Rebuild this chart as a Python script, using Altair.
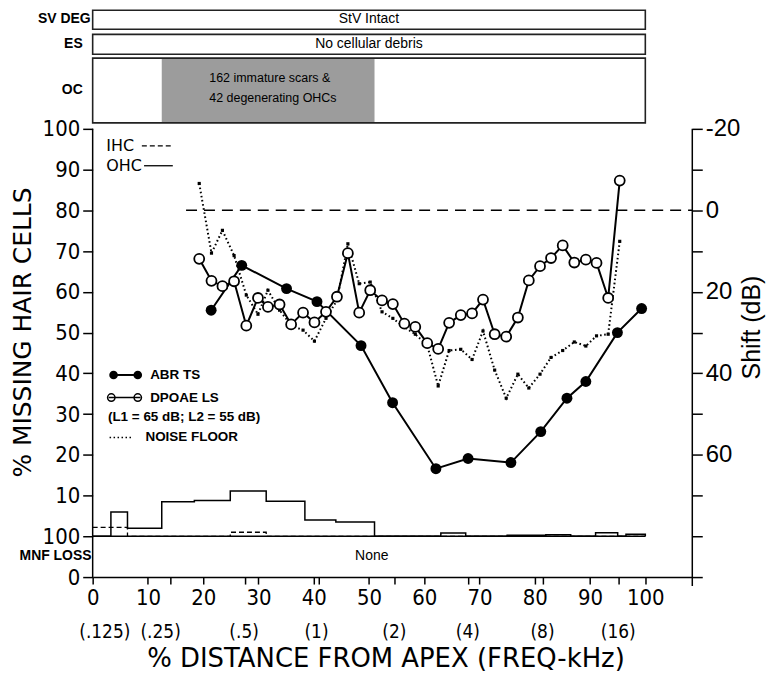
import altair as alt
import pandas as pd

# ---------------- data ----------------
# DPOAE level shift and noise floor, % distance from apex
dp_x = [19.28, 21.50, 23.48, 25.59, 27.80, 29.91, 31.71, 33.82, 35.91, 38.07,
        40.13, 42.22, 44.20, 46.18, 48.23, 50.22, 52.36, 54.32, 56.40, 58.38,
        60.54, 62.52, 64.50, 66.61, 68.65, 70.63, 72.74, 74.83, 76.94, 78.92,
        80.95, 82.94, 85.05, 87.15, 89.24, 91.17, 93.28, 95.37]
dp_shift = [11.9, 17.3, 18.6, 17.4, 28.3, 21.5, 23.7, 23.1, 28.0, 25.1,
            27.5, 24.9, 21.2, 10.5, 25.1, 19.6, 22.1, 23.0, 27.8, 28.6,
            32.6, 34.0, 27.6, 25.7, 25.3, 21.9, 30.4, 31.0, 26.3, 17.2,
            13.7, 11.7, 8.6, 12.8, 12.1, 12.9, 21.5, -7.3]
nf_shift = [-6.6, 10.5, 4.9, 11.1, 20.8, 25.5, 19.6, 24.5, 28.2, 29.4,
            32.1, 26.5, 22.1, 8.2, 18.0, 17.6, 24.9, 26.5, 28.7, 30.4,
            33.1, 43.1, 34.4, 34.1, 36.6, 29.6, 39.2, 46.1, 40.2, 43.6,
            40.2, 36.1, 34.4, 32.3, 33.3, 30.8, 30.4, 7.6]
# ABR threshold shift
abr_x = [21.44, 26.97, 35.08, 40.59, 48.56, 54.27, 62.11, 67.93, 75.68, 81.08,
         85.82, 89.24, 94.95, 99.33]
abr_shift = [24.5, 13.5, 19.2, 22.4, 33.2, 47.2, 63.4, 60.9, 61.9, 54.3,
             46.1, 42.0, 30.0, 24.1]
# cytocochleogram (% missing hair cells), step bins (left edges)
ohc_edges = [0, 3.3, 6.3, 12.5, 18.4, 24.9, 31.4, 38.4, 44.0, 51.0, 63.0, 67.5,
             75.0, 82.0, 86.5, 91.0, 95.0, 96.5, 100]
ohc_loss = [0, 6.0, 2.0, 8.5, 8.8, 11.1, 8.6, 4.0, 3.5, 0, 0.8, 0,
            0.25, 0.4, 0, 0.9, 0, 0.5, 0]
ihc_edges = [0, 6.3, 24.9, 31.4, 100]
ihc_loss = [2.2, 0, 1.0, 0, 0]
# pathology panels
region_labels = ["SV DEG", "ES", "OC"]
region_texts = ["StV Intact", "No cellular debris"]
oc_lesion = [12.5, 51.0]
oc_lesion_text = ["162 immature scars &", "42 degenerating OHCs"]
mnf_text = "None"
# frequency labels
freq_labels = ["(.125)", "(.25)", "(.5)", "(1)", "(2)", "(4)", "(8)", "(16)"]
freq_pos = [2.2, 12.3, 27.4, 40.5, 54.6, 67.9, 81.4, 95.1]
minor_ticks = [14, 27.5, 41, 54.6, 67.9, 81.4, 95.1]

# ---------------- scales ----------------
X_MAX = 108.5
xs = alt.Scale(domain=[0, X_MAX], nice=False, zero=False)
ys = alt.Scale(domain=[-10, 129.34], nice=False, zero=False)
ds = alt.Scale(domain=[-49.34, 90], nice=False, zero=False, reverse=True)

NUM_FONT = "DejaVu Sans Condensed, Liberation Sans"
TITLE_FONT = "DejaVu Sans"
LAB_FONT = "Liberation Sans"

x_axis = alt.Axis(
    values=list(range(0, 101, 10)) + minor_ticks,
    labelExpr="datum.value % 10 == 0 ? datum.label : ''",
    title="% DISTANCE FROM APEX (FREQ-kHz)", titleFont=TITLE_FONT, titleFontSize=26,
    titleFontWeight="normal", titleY=82, titleX=294, titleBaseline="middle",
    labelFont=NUM_FONT, labelFontSize=22, tickSize=7, labelPadding=4,
    domainWidth=1.5, tickWidth=1.5, grid=False, labelFlush=False)
y_axis = alt.Axis(
    values=list(range(-10, 101, 10)),
    labelExpr="datum.value == 0 ? '100' : (datum.value == -10 ? '0' : datum.label)",
    title="% MISSING HAIR CELLS", titleFont=TITLE_FONT, titleFontSize=25,
    titleFontWeight="normal", titleX=-70, titleY=324, titleAngle=270,
    titleAlign="center", titleBaseline="middle",
    labelFont=NUM_FONT, labelFontSize=22, tickSize=10, labelPadding=3,
    domain=False, tickWidth=1.5, grid=False)
r_axis = alt.Axis(
    orient="right", values=list(range(-20, 91, 10)),
    labelExpr="datum.value == -20 ? '-20' : (indexof([0,20,40,60], datum.value) >= 0 ? datum.label : '')",
    title="Shift (dB)", titleFont=LAB_FONT, titleFontSize=25, titleFontWeight="normal",
    titleX=59, titleY=319, titleAngle=270, titleAlign="center", titleBaseline="middle",
    labelFont=LAB_FONT, labelFontSize=24, tickSize=10, labelPadding=3,
    domain=False, tickWidth=1.5, grid=False)


def X(f="x"):
    return alt.X(f + ":Q", scale=xs, axis=x_axis)


def Y(f="y"):
    return alt.Y(f + ":Q", scale=ys, axis=y_axis)


def D(f="y"):
    return alt.Y(f + ":Q", scale=ds, axis=r_axis)


# ---------------- hair-cell / panel layers ----------------
lesion = alt.Chart(pd.DataFrame({"x": [oc_lesion[0]], "x2": [oc_lesion[1]],
                                 "y": [101.47], "y2": [117.36]})).mark_rect(
    color="#9c9c9c").encode(x=X(), x2="x2:Q", y=Y(), y2="y2:Q")

boxes = alt.Chart(pd.DataFrame({"x": [0, 0, 0], "x2": [100, 100, 100],
                                "y": [124.45, 118.3, 101.47],
                                "y2": [129.1, 123.2, 117.36]})).mark_rect(
    fillOpacity=0, stroke="#222", strokeWidth=1.6).encode(x=X(), x2="x2:Q", y=Y(), y2="y2:Q")

left_line = alt.Chart(pd.DataFrame({"x": [0], "y": [-10], "y2": [100]})).mark_rule(
    color="black", strokeWidth=1.5).encode(x=X(), y=Y(), y2="y2:Q")
base_line = alt.Chart(pd.DataFrame({"x": [0], "x2": [100], "y": [0]})).mark_rule(
    color="black", strokeWidth=1.5).encode(x=X(), x2="x2:Q", y=Y())

ohc = alt.Chart(pd.DataFrame({"x": ohc_edges, "y": ohc_loss})).mark_line(
    interpolate="step-after", color="black", strokeWidth=1.5).encode(x=X(), y=Y())
ihc = alt.Chart(pd.DataFrame({"x": ihc_edges, "y": ihc_loss})).mark_line(
    interpolate="step-after", color="black", strokeWidth=1.3, strokeDash=[5, 3]).encode(x=X(), y=Y())


def texts(rows, **kw):
    df = pd.DataFrame(rows, columns=["x", "y", "t"])
    return alt.Chart(df).mark_text(color="black", **kw).encode(x=X(), y=Y(), text="t:N")


side_labels = texts([(-0.36, 126.9, region_labels[0]), (-1.8, 120.9, region_labels[1]),
                     (-1.8, 109.5, region_labels[2]), (-0.2, -4.9, "MNF LOSS")],
                    align="right", baseline="middle", font=LAB_FONT, fontSize=14, fontWeight="bold")
box_texts = texts([(50, 126.9, region_texts[0]), (50, 120.8, region_texts[1]),
                   (50.5, -4.9, mnf_text)],
                  align="center", baseline="middle", font=LAB_FONT, fontSize=14)
lesion_texts = texts([(21.1, 112.5, oc_lesion_text[0]), (21.1, 107.6, oc_lesion_text[1])],
                     align="left", baseline="middle", font=LAB_FONT, fontSize=12.5)
freq_texts = texts([(p, -23.5, l) for p, l in zip(freq_pos, freq_labels)],
                   align="center", baseline="middle", font=NUM_FONT, fontSize=19)

# IHC / OHC key
hc_key_text = texts([(2.47, 95.84, "IHC"), (2.47, 90.95, "OHC")],
                    align="left", baseline="middle", font=TITLE_FONT, fontSize=16)
ihc_key = alt.Chart(pd.DataFrame({"x": [8.9], "x2": [14.3], "y": [95.84]})).mark_rule(
    color="black", strokeWidth=1.3, strokeDash=[5, 3]).encode(x=X(), x2="x2:Q", y=Y())
ohc_key = alt.Chart(pd.DataFrame({"x": [9.3], "x2": [14.5], "y": [90.95]})).mark_rule(
    color="black", strokeWidth=1.3).encode(x=X(), x2="x2:Q", y=Y())

# ABR / DPOAE key
key_text = texts([(10.4, 39.6, "ABR TS"), (10.4, 34.06, "DPOAE LS"),
                  (2.76, 29.27, "(L1 = 65 dB; L2 = 55 dB)"), (9.55, 24.28, "NOISE FLOOR")],
                 align="left", baseline="middle", font=LAB_FONT, fontSize=13.5, fontWeight="bold")
abr_key_line = alt.Chart(pd.DataFrame({"x": [3.78], "x2": [8.16], "y": [39.6]})).mark_rule(
    color="black", strokeWidth=2).encode(x=X(), x2="x2:Q", y=Y())
abr_key_pts = alt.Chart(pd.DataFrame({"x": [3.78, 8.16], "y": [39.6, 39.6]})).mark_circle(
    color="black", size=75, opacity=1).encode(x=X(), y=Y())
dp_key_line = alt.Chart(pd.DataFrame({"x": [2.9], "x2": [8.65], "y": [34.06]})).mark_rule(
    color="black", strokeWidth=1.5).encode(x=X(), x2="x2:Q", y=Y())
dp_key_pts = alt.Chart(pd.DataFrame({"x": [3.37, 8.16], "y": [34.06, 34.06]})).mark_point(
    shape="circle", color="black", size=55, strokeWidth=1.5, opacity=1).encode(x=X(), y=Y())
nf_key = alt.Chart(pd.DataFrame({"x": [3.06], "x2": [7.2], "y": [24.28]})).mark_rule(
    color="black", strokeWidth=1.5, strokeDash=[1.5, 2.5]).encode(x=X(), x2="x2:Q", y=Y())

hair_layer = alt.layer(lesion, boxes, left_line, base_line, ohc, ihc, side_labels, box_texts,
                       lesion_texts, freq_texts, hc_key_text, ihc_key, ohc_key, key_text,
                       abr_key_line, abr_key_pts, dp_key_line, dp_key_pts, nf_key)

# ---------------- dB layers ----------------
right_line = alt.Chart(pd.DataFrame({"x": [X_MAX], "y": [-20], "y2": [92.2]})).mark_rule(
    color="black", strokeWidth=1.5).encode(x=X(), y=D(), y2="y2:Q")
zero_line = alt.Chart(pd.DataFrame({"x": [16.9], "x2": [X_MAX], "y": [0]})).mark_rule(
    color="black", strokeWidth=1.5, strokeDash=[11, 7]).encode(x=X(), x2="x2:Q", y=D())

dp_df = pd.DataFrame({"x": dp_x, "y": dp_shift})
nf_df = pd.DataFrame({"x": dp_x, "y": nf_shift})
abr_df = pd.DataFrame({"x": abr_x, "y": abr_shift})

nf_line = alt.Chart(nf_df).mark_line(color="black", strokeWidth=2,
                                     strokeDash=[1.6, 2.6]).encode(x=X(), y=D())
nf_pts = alt.Chart(nf_df).mark_square(color="black", size=10, opacity=1).encode(x=X(), y=D())
dp_line = alt.Chart(dp_df).mark_line(color="black", strokeWidth=2).encode(x=X(), y=D())
abr_line = alt.Chart(abr_df).mark_line(color="black", strokeWidth=2).encode(x=X(), y=D())
dp_pts = alt.Chart(dp_df).mark_point(shape="circle", filled=True, fill="white", stroke="black",
                                     strokeWidth=1.8, size=100, opacity=1).encode(x=X(), y=D())
abr_pts = alt.Chart(abr_df).mark_circle(color="black", size=120, opacity=1).encode(x=X(), y=D())

db_layer = alt.layer(right_line, zero_line, nf_line, nf_pts, dp_line, abr_line, dp_pts, abr_pts)

chart = alt.layer(hair_layer, db_layer).resolve_scale(y="independent").properties(
    width=602, height=570,
    autosize=alt.AutoSizeParams(type="none"),
    padding={"left": 85, "top": 0, "right": 75, "bottom": 100},
).configure_view(stroke=None).configure_axis(
    labelColor="black", tickColor="black", domainColor="black", titleColor="black")

chart.save("out.html", embed_options={"renderer": "svg", "actions": False})
